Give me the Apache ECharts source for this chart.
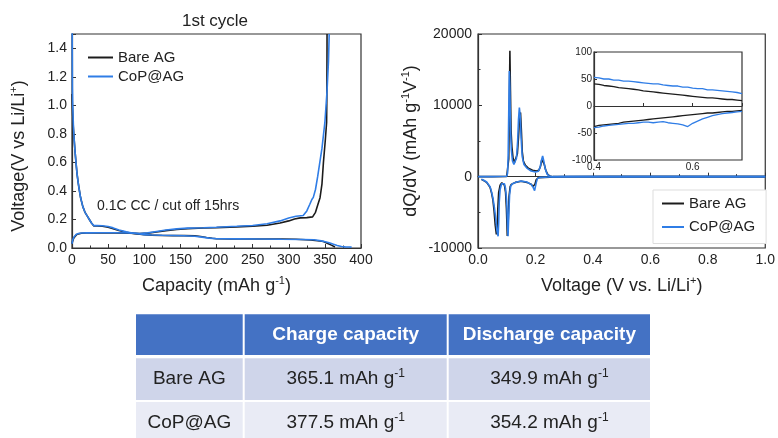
<!DOCTYPE html>
<html>
<head>
<meta charset="utf-8">
<script src="https://cdn.jsdelivr.net/npm/echarts@6/dist/echarts.min.js"></script>
<style>
html, body { margin: 0; padding: 0; background: #fff; }
#chart { width: 778px; height: 438px; }
</style>
</head>
<body>
<div id="chart"></div>
<script>
const FONT = "'Liberation Sans', Arial, sans-serif";
const BLACK = '#1c1c1c';
const BLUE = '#2f7de6';

// 1st cycle voltage profiles: [capacity (mAh/g), voltage (V)]
const bareLithiation = [
  [0, 1.08], [0.5, 1.0], [1, 0.93], [2, 0.83], [3, 0.76], [4, 0.69], [5.5, 0.6], [7, 0.52],
  [8.5, 0.46], [10, 0.41], [12, 0.35], [15, 0.29], [18, 0.25], [21, 0.225], [24, 0.2],
  [27, 0.175], [30, 0.155], [35, 0.154], [42, 0.152], [50, 0.146], [57, 0.135], [65, 0.122],
  [75, 0.11], [85, 0.102], [94, 0.097], [100, 0.093], [110, 0.09], [125, 0.088], [140, 0.087],
  [155, 0.087], [170, 0.085], [178, 0.081], [186, 0.074], [194, 0.068], [200, 0.065],
  [220, 0.064], [250, 0.063], [288, 0.063], [310, 0.061], [330, 0.056], [340, 0.051],
  [348, 0.045], [354, 0.032], [359, 0.02], [364, 0.007]
];
const bareDelithiation = [
  [0, 0.03], [1, 0.05], [2.5, 0.07], [4, 0.082], [6, 0.092], [9, 0.099], [13, 0.103],
  [20, 0.105], [40, 0.106], [60, 0.106], [80, 0.104], [94, 0.101], [105, 0.104], [117, 0.112],
  [130, 0.122], [145, 0.13], [160, 0.136], [182, 0.14], [200, 0.143], [228, 0.148],
  [250, 0.153], [270, 0.16], [288, 0.175], [300, 0.19], [308, 0.203], [316, 0.211],
  [325, 0.213], [333, 0.218], [337, 0.25], [340, 0.3], [343.3, 0.353], [346, 0.45],
  [348, 0.6], [350.5, 0.75], [352.4, 0.88], [352.8, 1.1], [353, 1.5]
];
const copLithiation = [
  [0, 2.0], [0.3, 1.45], [0.6, 1.12], [1, 1.0], [2, 0.85], [3, 0.76], [4, 0.69], [5.5, 0.6],
  [7, 0.52], [8.5, 0.46], [10, 0.41], [12, 0.35], [15, 0.29], [18, 0.25], [21, 0.225],
  [24, 0.2], [27, 0.175], [30, 0.157], [35, 0.157], [42, 0.156], [50, 0.151], [57, 0.141],
  [65, 0.126], [75, 0.113], [85, 0.104], [94, 0.098], [100, 0.094], [110, 0.091],
  [125, 0.089], [140, 0.088], [155, 0.086], [170, 0.082], [180, 0.076], [190, 0.069],
  [200, 0.065], [230, 0.064], [260, 0.063], [290, 0.061], [320, 0.06], [335, 0.058],
  [345, 0.05], [352, 0.042], [357, 0.035], [362, 0.026], [367, 0.018], [373, 0.011],
  [378, 0.008], [383, 0.007], [387, 0.006]
];
const copDelithiation = [
  [0, 0.03], [1, 0.055], [2.5, 0.075], [4, 0.088], [6, 0.096], [9, 0.102], [13, 0.105],
  [20, 0.106], [40, 0.107], [60, 0.107], [80, 0.105], [94, 0.102], [105, 0.106],
  [117, 0.116], [130, 0.126], [145, 0.134], [160, 0.139], [182, 0.142], [200, 0.145],
  [228, 0.152], [250, 0.158], [270, 0.17], [288, 0.19], [300, 0.21], [310, 0.222],
  [320, 0.228], [325, 0.26], [329, 0.305], [332, 0.34], [334, 0.355], [337, 0.41],
  [340, 0.5], [343, 0.6], [346, 0.7], [350, 0.88], [353, 1.1], [355, 1.31], [356, 1.5]
];

// Differential capacity: [voltage (V), dQ/dV (mAh g^-1 V^-1)]
const bareDqdvCharge = [
  [0, 0], [0.05, 0], [0.1, 20], [0.105, 200], [0.107, 2500], [0.109, 9000], [0.111, 17650],
  [0.113, 12000], [0.115, 6500], [0.118, 4200], [0.122, 2600], [0.127, 2000], [0.132, 2200],
  [0.137, 3200], [0.141, 5500], [0.144, 7800], [0.148, 9000], [0.151, 6500], [0.154, 3500],
  [0.158, 2200], [0.165, 1600], [0.175, 1200], [0.19, 900], [0.203, 800], [0.212, 900],
  [0.218, 1500], [0.222, 2400], [0.226, 2600], [0.23, 1800], [0.236, 900], [0.242, 350],
  [0.25, 80], [0.26, 0], [1.0, 0]
];
const copDqdvCharge = [
  [0, 0], [0.05, 0], [0.1, 50], [0.103, 500], [0.105, 3000], [0.107, 9000], [0.109, 14800],
  [0.111, 12500], [0.113, 7000], [0.116, 3800], [0.12, 2200], [0.125, 1700], [0.13, 1800],
  [0.134, 2600], [0.138, 5000], [0.141, 8000], [0.144, 9700], [0.147, 8500], [0.15, 5500],
  [0.154, 2800], [0.16, 1700], [0.17, 1200], [0.185, 800], [0.2, 650], [0.21, 750],
  [0.216, 1300], [0.221, 2300], [0.225, 2900], [0.229, 2200], [0.234, 1100], [0.24, 400],
  [0.248, 80], [0.26, 0], [1.0, 0]
];
const bareDqdvDischarge = [
  [0.012, -380], [0.02, -550], [0.03, -800], [0.036, -1080], [0.042, -1500], [0.047, -2250],
  [0.052, -3300], [0.056, -4800], [0.06, -6800], [0.064, -8100], [0.067, -7000],
  [0.069, -4500], [0.072, -2200], [0.077, -1200], [0.083, -850], [0.088, -850],
  [0.092, -1200], [0.096, -2200], [0.099, -4500], [0.102, -8300], [0.105, -6500],
  [0.108, -2800], [0.112, -1400], [0.116, -1080], [0.13, -800], [0.15, -650], [0.17, -800],
  [0.185, -1050], [0.191, -1350], [0.194, -1550], [0.198, -1100], [0.203, -400],
  [0.21, -150], [0.25, -60], [0.3, -20], [0.45, 0], [1.0, 0]
];
const copDqdvDischarge = [
  [0.012, -350], [0.02, -500], [0.03, -750], [0.036, -1000], [0.042, -1400], [0.047, -2100],
  [0.052, -3000], [0.057, -4300], [0.062, -6000], [0.066, -7600], [0.07, -8350],
  [0.072, -6500], [0.074, -3500], [0.077, -1800], [0.082, -1000], [0.087, -840],
  [0.092, -1000], [0.096, -1700], [0.1, -3500], [0.103, -7000], [0.1045, -8350],
  [0.107, -5500], [0.11, -2500], [0.114, -1300], [0.12, -1000], [0.135, -750], [0.15, -620],
  [0.17, -750], [0.185, -1080], [0.192, -1500], [0.197, -1950], [0.2, -1700], [0.203, -800],
  [0.207, -250], [0.215, -100], [0.25, -40], [0.3, 0], [1.0, 0]
];

// Inset: 0.4-0.7 V detail
const insetVoltage = [
  0.40, 0.41, 0.42, 0.43, 0.44, 0.45, 0.46, 0.47, 0.48, 0.49, 0.50, 0.51, 0.52, 0.53, 0.54, 0.55,
  0.56, 0.57, 0.58, 0.59, 0.60, 0.61, 0.62, 0.63, 0.64, 0.65, 0.66, 0.67, 0.68, 0.69, 0.70
];
const bareInsetCharge = [
  41, 40, 38, 37, 36, 34, 33, 32, 31, 30, 28, 27, 26, 25, 24, 23,
  22, 21, 20, 19, 18, 17, 16, 15, 15, 14, 13, 12, 12, 11, 10
];
const copInsetCharge = [
  53, 52, 50, 50, 48, 48, 46, 46, 45, 44, 43, 42, 41, 41, 39, 38,
  37, 37, 35, 35, 33, 32, 32, 30, 30, 29, 28, 27, 26, 25, 23
];
const bareInsetDischarge = [
  -38, -36, -35, -34, -33, -32, -30, -29, -28, -27, -26, -25, -24, -23, -22, -21,
  -20, -19, -18, -17, -16, -15, -14, -13, -13, -12, -11, -10, -10, -9, -8
];
const copInsetDischarge = [
  -40, -39, -37, -36, -35, -34, -33, -32, -32, -31, -30, -30, -31, -30, -29, -31,
  -32, -33, -35, -38, -32, -28, -24, -21, -18, -16, -14, -13, -12, -11, -10
];

// Capacity summary table
const tableHeader = ['', 'Charge capacity', 'Discharge capacity'];
const sampleNames = ['Bare AG', 'CoP@AG'];
const chargeCapacity = [365.1, 377.5];
const dischargeCapacity = [349.9, 354.2];

const zipInset = (vals) => insetVoltage.map((v, i) => [v, vals[i]]);

const supRich = (size) => ({
  sup: { fontSize: size, fontFamily: FONT, color: '#222', verticalAlign: 'top', lineHeight: size + 2 }
});

const tickLabel = { color: '#222', fontSize: 14, fontFamily: FONT, margin: 5 };
const axisLineStyle = { lineStyle: { color: '#333', width: 1.2 } };

function lineSeries(name, data, color, xi, width, z) {
  return {
    type: 'line', name, data, xAxisIndex: xi, yAxisIndex: xi,
    symbol: 'none', showSymbol: false, smooth: false, clip: true, z: z || 2,
    lineStyle: { color, width: width || 1.6 }, itemStyle: { color },
    emphasis: { disabled: true }, silent: true
  };
}

// Table drawn as graphic rectangles and text
const colX = [136, 244.7, 448.7];
const colW = [106.7, 202, 201.3];
const rowY = [314.3, 358.3, 402];
const rowH = [40.7, 41.7, 40];
const rowFill = ['#4472c4', '#cfd5ea', '#e9ebf5'];
const tableGraphics = [];
const tableRows = [tableHeader].concat(sampleNames.map((n, i) => [
  n,
  chargeCapacity[i].toFixed(1) + ' mAh g{sup|-1}',
  dischargeCapacity[i].toFixed(1) + ' mAh g{sup|-1}'
]));
tableRows.forEach((row, r) => {
  row.forEach((txt, c) => {
    tableGraphics.push({
      type: 'rect', silent: true,
      shape: { x: colX[c], y: rowY[r], width: colW[c], height: rowH[r] },
      style: { fill: rowFill[r] }
    });
    if (txt) {
      tableGraphics.push({
        type: 'text', silent: true,
        x: colX[c] + colW[c] / 2, y: rowY[r] + (r === 2 ? 21 : rowH[r] / 2),
        style: {
          text: txt,
          fill: r === 0 ? '#fff' : '#222',
          font: (r === 0 ? 'bold ' : '') + '19px ' + FONT,
          fontSize: 19, fontFamily: FONT, fontWeight: r === 0 ? 'bold' : 'normal',
          align: 'center', verticalAlign: 'middle',
          textAlign: 'center', textVerticalAlign: 'middle',
          lineHeight: 22,
          rich: { sup: { fontSize: 12, fontFamily: FONT, fill: '#222', verticalAlign: 'top', lineHeight: 12 } }
        }
      });
    }
  });
});

const legendItems = [
  { name: 'Bare AG', itemStyle: { color: BLACK } },
  { name: 'CoP@AG', itemStyle: { color: BLUE } }
];

const option = {
  backgroundColor: '#fff',
  animation: false,
  textStyle: { fontFamily: FONT },
  title: {
    text: '1st cycle', left: 215, top: 13, padding: 0, textAlign: 'center',
    textStyle: { fontSize: 17, fontWeight: 'normal', color: '#222', fontFamily: FONT }
  },
  legend: [
    {
      data: legendItems, orient: 'vertical', left: 88, top: 50, padding: 0,
      icon: 'rect', itemWidth: 25, itemHeight: 2, itemGap: 4, selectedMode: false,
      textStyle: { fontSize: 15, color: '#222', fontFamily: FONT }
    },
    {
      data: legendItems, orient: 'vertical', left: 653, top: 190, padding: [6, 11, 9, 9],
      icon: 'rect', itemWidth: 22, itemHeight: 2, itemGap: 8.5, selectedMode: false,
      borderColor: '#ddd', borderWidth: 1, backgroundColor: '#fff',
      textStyle: { fontSize: 15, color: '#222', fontFamily: FONT }
    }
  ],
  grid: [
    { left: 72, top: 34, width: 289, height: 214, show: true, borderColor: '#333', borderWidth: 1.2, backgroundColor: 'transparent' },
    { left: 478, top: 34, width: 290, height: 214, show: true, borderColor: '#333', borderWidth: 1.2, backgroundColor: 'transparent' },
    { left: 594, top: 52, width: 148, height: 108, show: true, borderColor: '#333', borderWidth: 1.2, backgroundColor: '#fff', z: 5 }
  ],
  xAxis: [
    {
      gridIndex: 0, type: 'value', min: 0, max: 400, interval: 50,
      name: 'Capacity (mAh g{sup|-1})', nameLocation: 'middle', nameGap: 27,
      nameTextStyle: { fontSize: 18, color: '#222', fontFamily: FONT, lineHeight: 22, rich: supRich(11) },
      axisLine: axisLineStyle, splitLine: { show: false },
      axisTick: { inside: true, length: 4, lineStyle: { color: '#333' } },
      minorTick: { show: true, splitNumber: 2, length: 2.5, lineStyle: { color: '#333' } },
      axisLabel: Object.assign({}, tickLabel)
    },
    {
      gridIndex: 1, type: 'value', min: 0, max: 1, interval: 0.2,
      name: 'Voltage (V vs. Li/Li{sup|+})', nameLocation: 'middle', nameGap: 27,
      nameTextStyle: { fontSize: 18, color: '#222', fontFamily: FONT, lineHeight: 22, rich: supRich(11) },
      axisLine: axisLineStyle, splitLine: { show: false },
      axisTick: { inside: true, length: 4, lineStyle: { color: '#333' } },
      minorTick: { show: true, splitNumber: 2, length: 2.5, lineStyle: { color: '#333' } },
      axisLabel: Object.assign({}, tickLabel, { formatter: (v) => v.toFixed(1) })
    },
    {
      gridIndex: 2, type: 'value', min: 0.4, max: 0.7, interval: 0.2, z: 6,
      axisLine: axisLineStyle, splitLine: { show: false },
      axisTick: { inside: true, length: 3, lineStyle: { color: '#333' } },
      minorTick: { show: true, splitNumber: 2, length: 3, lineStyle: { color: '#333' } },
      axisLabel: { color: '#222', fontSize: 10, fontFamily: FONT, margin: 2,
        formatter: (v) => (Math.abs(v - 0.7) < 1e-6 ? '' : v.toFixed(1)) }
    }
  ],
  yAxis: [
    {
      gridIndex: 0, type: 'value', min: 0, max: 1.5, interval: 0.2,
      name: 'Voltage(V vs Li/Li{sup|+})', nameLocation: 'middle', nameGap: 42,
      nameTextStyle: { fontSize: 18, color: '#222', fontFamily: FONT, lineHeight: 22, padding: [0, 30, 0, 0], rich: supRich(11) },
      axisLine: axisLineStyle, splitLine: { show: false },
      axisTick: { inside: true, length: 4, lineStyle: { color: '#333' } },
      axisLabel: Object.assign({}, tickLabel, {
        formatter: (v) => (Math.abs(v - 1.5) < 1e-6 ? '' : v.toFixed(1))
      })
    },
    {
      gridIndex: 1, type: 'value', min: -10000, max: 20000, interval: 10000,
      name: 'dQ/dV (mAh g{sup|-1}V{sup|-1})', nameLocation: 'middle', nameGap: 56,
      nameTextStyle: { fontSize: 18, color: '#222', fontFamily: FONT, lineHeight: 22, rich: supRich(11) },
      axisLine: axisLineStyle, splitLine: { show: false },
      axisTick: { inside: true, length: 4, lineStyle: { color: '#333' } },
      minorTick: { show: true, splitNumber: 2, length: 2.5, lineStyle: { color: '#333' } },
      axisLabel: Object.assign({}, tickLabel, { margin: 6, formatter: (v) => String(v) })
    },
    {
      gridIndex: 2, type: 'value', min: -100, max: 100, interval: 50, z: 6,
      axisLine: axisLineStyle, splitLine: { show: false },
      axisTick: { inside: true, length: 3, lineStyle: { color: '#333' } },
      axisLabel: { color: '#222', fontSize: 10, fontFamily: FONT, margin: 2 }
    }
  ],
  series: [
    lineSeries('Bare AG', bareLithiation, BLACK, 0),
    lineSeries('Bare AG', bareDelithiation, BLACK, 0),
    lineSeries('CoP@AG', copLithiation, BLUE, 0),
    lineSeries('CoP@AG', copDelithiation, BLUE, 0),
    lineSeries('Bare AG', bareDqdvDischarge, BLACK, 1),
    lineSeries('Bare AG', bareDqdvCharge, BLACK, 1),
    lineSeries('CoP@AG', copDqdvDischarge, BLUE, 1),
    lineSeries('CoP@AG', copDqdvCharge, BLUE, 1),
    lineSeries('Bare AG', zipInset(bareInsetCharge), BLACK, 2, 1.3, 7),
    lineSeries('Bare AG', zipInset(bareInsetDischarge), BLACK, 2, 1.3, 7),
    lineSeries('CoP@AG', zipInset(copInsetCharge), BLUE, 2, 1.3, 7),
    lineSeries('CoP@AG', zipInset(copInsetDischarge), BLUE, 2, 1.3, 7)
  ],
  graphic: [
    {
      type: 'text', silent: true, x: 97, y: 206,
      style: {
        text: '0.1C CC / cut off 15hrs', fill: '#222', font: '14px ' + FONT,
        fontSize: 14, fontFamily: FONT, verticalAlign: 'middle', textVerticalAlign: 'middle'
      }
    }
  ].concat(tableGraphics)
};

const chart = echarts.init(document.getElementById('chart'), null, { renderer: 'canvas' });
chart.setOption(option);
</script>
</body>
</html>
